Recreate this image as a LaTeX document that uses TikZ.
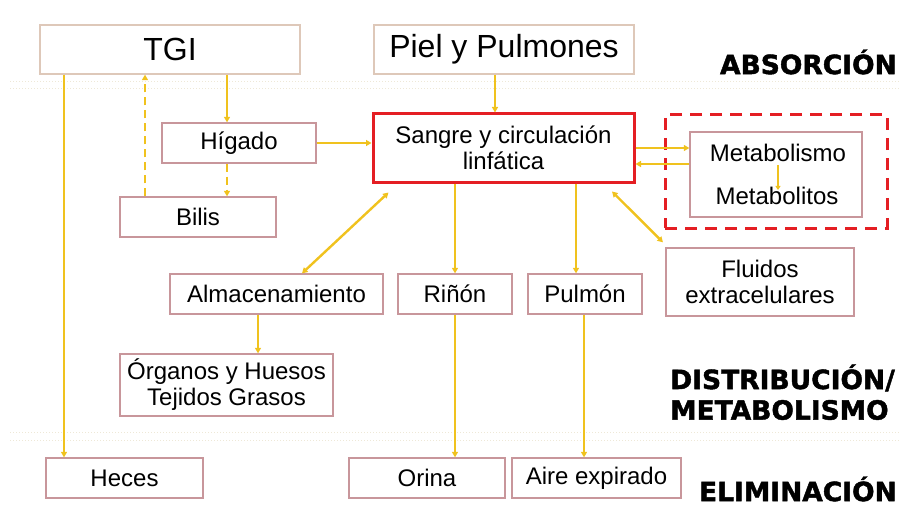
\documentclass[tikz,border=0pt]{standalone}
\usepackage{fontspec}
\setmainfont{Liberation Sans}
\newfontfamily\heavy[BoldFeatures={FakeBold=1.6}]{DejaVu Sans}
\usetikzlibrary{arrows.meta}
\definecolor{gold}{RGB}{240,194,30}
\definecolor{boxpink}{RGB}{200,150,155}
\definecolor{boxtan}{RGB}{222,200,185}
\definecolor{redbox}{RGB}{228,30,35}
\definecolor{sepline}{RGB}{238,232,215}
\tikzset{
  bx/.style={draw=boxpink, line width=1.3pt, align=center, inner sep=0pt,
    font=\fontsize{24}{26}\selectfont},
  bigbx/.style={draw=boxtan, line width=1.3pt, align=center, inner sep=0pt,
    font=\fontsize{32}{36}\selectfont},
  arr/.style={draw=gold, line width=2.4pt, -{Triangle[length=5.5pt,width=6pt]}},
  darr/.style={draw=gold, line width=2.4pt, {Triangle[length=5.5pt,width=6pt]}-{Triangle[length=5.5pt,width=6pt]}},
  dasharr/.style={arr, dash pattern=on 8pt off 5pt},
  phase/.style={font=\heavy\bfseries\fontsize{26.5}{32}\selectfont, inner sep=0pt, align=left},
  sep/.style={draw=sepline, line width=1pt, dotted}
}
\begin{document}
\begin{tikzpicture}[x=1pt,y=-1pt]
\useasboundingbox (0,0) rectangle (899,508);
% separators
\draw[sep] (10,82) -- (899,82);
\draw[sep] (10,89) -- (899,89);
\draw[sep] (10,432) -- (899,432);
\draw[sep] (10,440) -- (899,440);
% boxes
\node[bigbx, minimum width=260pt, minimum height=49pt] (tgi) at (170,49.5) {TGI};
\node[bigbx, minimum width=260pt, minimum height=49pt] (piel) at (504,49.5) {Piel y Pulmones};
\node[bx, minimum width=154pt, minimum height=40pt] (hig) at (239,143) {Hígado};
\node[bx, minimum width=156pt, minimum height=40pt] (bilis) at (198,217) {Bilis};
\node[bx, draw=redbox, line width=3pt, minimum width=261pt, minimum height=68pt] (sangre) at (503.5,148) {Sangre y circulación\\linfática};
\node[draw=redbox, line width=3pt, dash pattern=on 12pt off 8pt, minimum width=222pt, minimum height=113pt, inner sep=0pt] (dash) at (776,171.5) {};
\node[bx, minimum width=172pt, minimum height=85pt] (met) at (776,174.5) {};
\node[inner sep=0pt, font=\fontsize{24}{26}\selectfont] (metab) at (778,153) {Metabolismo};
\node[inner sep=0pt, font=\fontsize{24}{26}\selectfont] (metos) at (777,196) {Metabolitos};
\node[bx, minimum width=213pt, minimum height=40pt] (alm) at (276.5,294) {Almacenamiento};
\node[bx, minimum width=114pt, minimum height=40pt] (rin) at (455,294) {Riñón};
\node[bx, minimum width=114pt, minimum height=40pt] (pul) at (585,294) {Pulmón};
\node[bx, minimum width=188pt, minimum height=68pt] (flu) at (760,282) {Fluidos\\extracelulares};
\node[bx, minimum width=213pt, minimum height=62pt] (org) at (226.5,385) {Órganos y Huesos\\Tejidos Grasos};
\node[bx, minimum width=157pt, minimum height=40pt] (hec) at (124.5,478) {Heces};
\node[bx, minimum width=156pt, minimum height=40pt] (ori) at (427,478) {Orina};
\node[bx, minimum width=169pt, minimum height=40pt] (aire) at (596.5,478) {Aire expirado};
% phase labels
\node[phase, anchor=east] (abs) at (897,62) {ABSORCIÓN};
\node[phase, anchor=west] (dist) at (670,378) {DISTRIBUCIÓN/};
\node[phase, anchor=west] (metl) at (670,410) {METABOLISMO};
\node[phase, anchor=east] (elim) at (897,489) {ELIMINACIÓN};
% connectors
\draw[arr] ([xshift=57pt]tgi.south) -- ([xshift=-12pt]hig.north);
\draw[dasharr] ([xshift=-12pt]hig.south) -- ([xshift=29pt]bilis.north);
\draw[dasharr] ([xshift=-53pt]bilis.north) -- ([xshift=-25pt]tgi.south);
\draw[arr] ([xshift=-106pt]tgi.south) -- ([xshift=-60.5pt]hec.north);
\draw[arr] (hig.east) -- (hig.east -| sangre.west);
\draw[arr] ([xshift=-9pt]piel.south) -- ([xshift=-8.5pt]sangre.north);
\draw[arr] (sangre.east) -- (sangre.east -| met.west);
\draw[arr] ([yshift=-16pt]sangre.east -| met.west) -- ([yshift=-16pt]sangre.east);
\draw[arr, line width=1.6pt, -{Triangle[length=4pt,width=5pt]}] ([yshift=-3pt]metab.south) -- ([yshift=-3pt]metab.south |- metos.north);
\draw[darr] ([xshift=25.5pt]alm.north) -- ([xshift=-115pt,yshift=-9pt]sangre.south);
\draw[arr] ([xshift=-48.5pt]sangre.south) -- (rin.north);
\draw[arr] ([xshift=72.5pt]sangre.south) -- ([xshift=-9pt]pul.north);
\draw[darr] ([xshift=108.5pt,yshift=-8pt]sangre.south) -- ([xshift=-97pt,yshift=5pt]flu.north);
\draw[arr] ([xshift=-18.5pt]alm.south) -- ([xshift=31.5pt]org.north);
\draw[arr] (rin.south) -- ([xshift=28pt]ori.north);
\draw[arr] ([xshift=-1pt]pul.south) -- ([xshift=-12.5pt]aire.north);
\end{tikzpicture}
\end{document}
